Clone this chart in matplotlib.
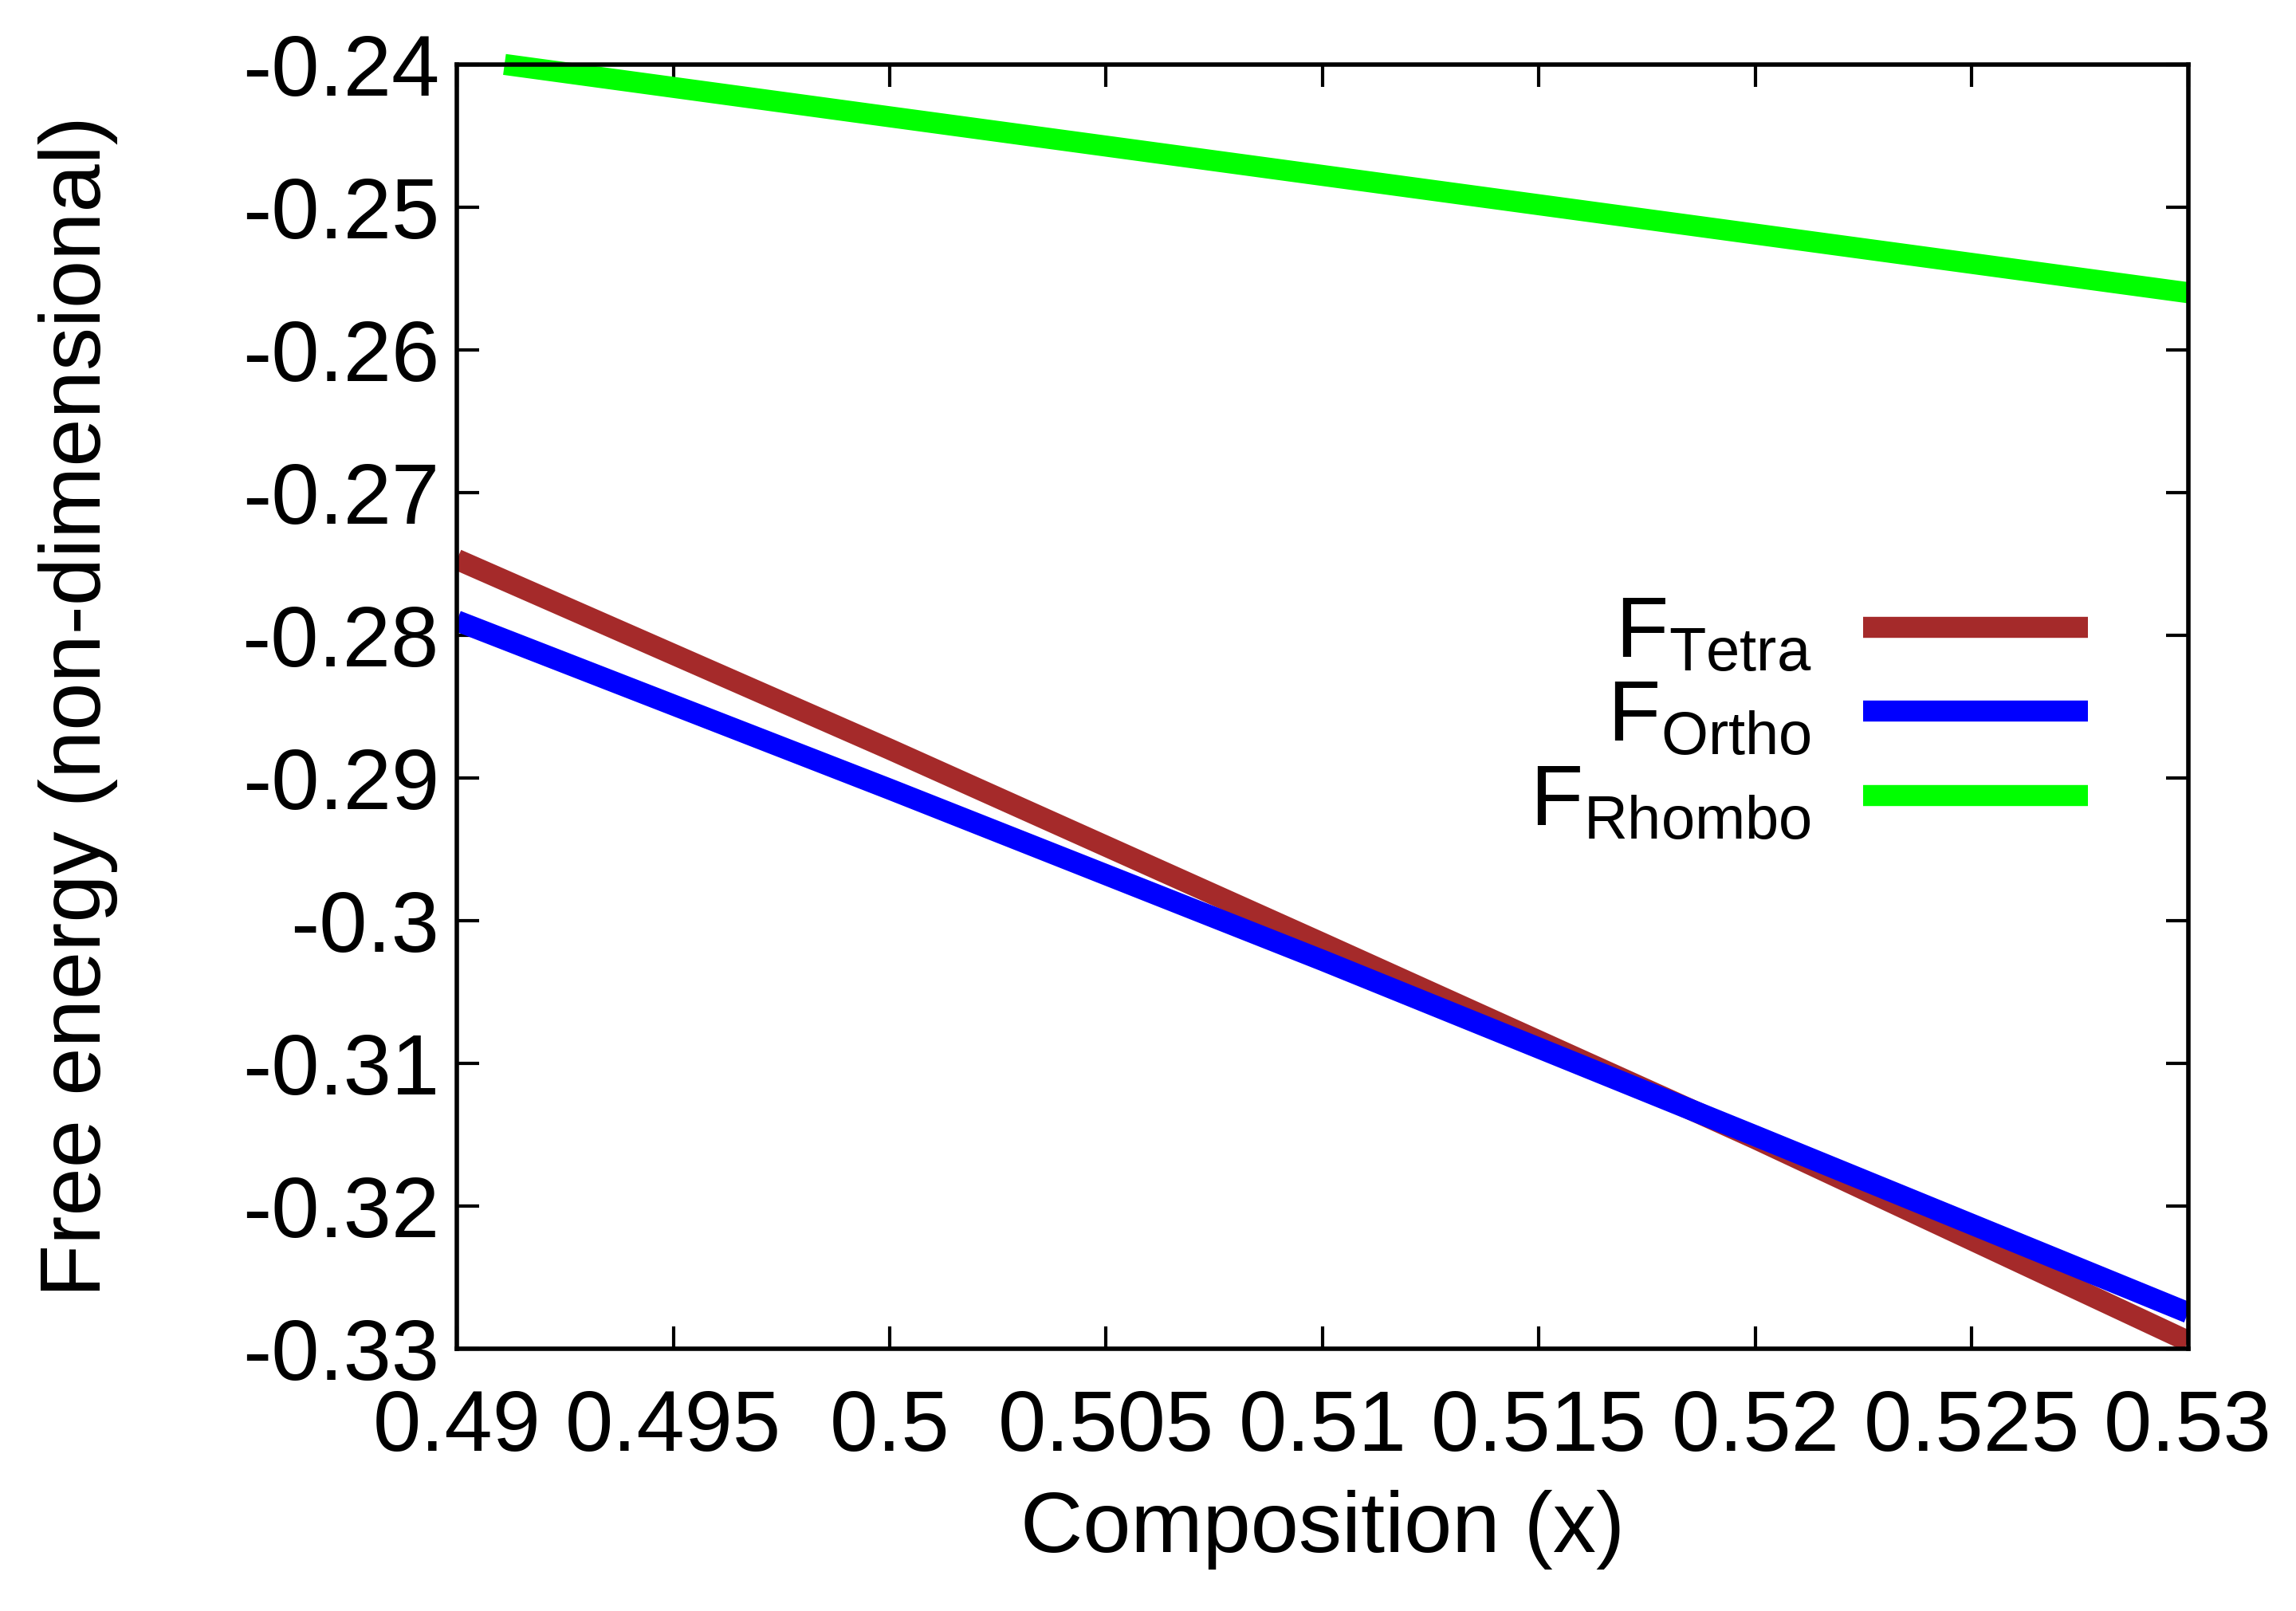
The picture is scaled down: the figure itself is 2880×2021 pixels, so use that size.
import numpy as np
import matplotlib
matplotlib.use("Agg")
import matplotlib.pyplot as plt

# Valores
composicao = [0.49, 0.50, 0.51, 0.52, 0.53]
f_tetra = [-0.2747, -0.2880, -0.3016, -0.3153, -0.3295]
f_ortho = [-0.2790, -0.2908, -0.3028, -0.3151, -0.3275]
# a curva rhombo só aparece a partir de x ~ 0.4911 (acima disso sai do eixo)
composicao_rhombo = [0.4911, 0.50, 0.51, 0.52, 0.53]
f_rhombo = [-0.2400, -0.24367, -0.24778, -0.25189, -0.2560]

x_ticks = [0.49, 0.495, 0.5, 0.505, 0.51, 0.515, 0.52, 0.525, 0.53]
x_labels = ["0.49", "0.495", "0.5", "0.505", "0.51", "0.515", "0.52", "0.525", "0.53"]
y_ticks = [-0.33, -0.32, -0.31, -0.30, -0.29, -0.28, -0.27, -0.26, -0.25, -0.24]
y_labels = ["-0.33", "-0.32", "-0.31", "-0.3", "-0.29", "-0.28", "-0.27", "-0.26", "-0.25", "-0.24"]

plt.rcParams["font.family"] = ["Liberation Sans", "DejaVu Sans"]
plt.rcParams["mathtext.fontset"] = "custom"
plt.rcParams["mathtext.rm"] = "Liberation Sans"
plt.rcParams["mathtext.it"] = "Liberation Sans"

fs = 39
fig = plt.figure(figsize=(14.4, 10.105), dpi=200)
ax = fig.add_axes([0.199, 0.163, 0.754, 0.797])

lw = 9.5
ax.plot(composicao, f_tetra, color="#A52A2A", lw=lw, label=r"F$_{\mathrm{Tetra}}$", solid_capstyle="butt")
ax.plot(composicao, f_ortho, color="#0000FF", lw=lw, label=r"F$_{\mathrm{Ortho}}$", solid_capstyle="butt")
ax.plot(composicao_rhombo, f_rhombo, color="#00FF00", lw=lw, label=r"F$_{\mathrm{Rhombo}}$",
        solid_capstyle="butt", clip_on=False)

ax.set_xlim(0.49, 0.53)
ax.set_ylim(-0.33, -0.24)
ax.set_xticks(x_ticks)
ax.set_xticklabels(x_labels)
ax.set_yticks(y_ticks)
ax.set_yticklabels(y_labels)

ax.tick_params(direction="in", top=True, right=True, length=10, width=1.5, labelsize=fs)
ax.tick_params(axis="x", pad=18)
ax.tick_params(axis="y", pad=8)
for s in ax.spines.values():
    s.set_linewidth(2)

ax.set_xlabel("Composition (x)", fontsize=fs, labelpad=10)
ax.set_ylabel("Free energy (non-dimensional)", fontsize=fs, labelpad=56)

ax.legend(loc="center right", bbox_to_anchor=(0.942, 0.49), frameon=False, fontsize=fs,
          markerfirst=False, handlelength=2.6, handletextpad=0.6, labelspacing=0.05,
          borderpad=0, borderaxespad=0)

fig.savefig("out.png", dpi=200)
